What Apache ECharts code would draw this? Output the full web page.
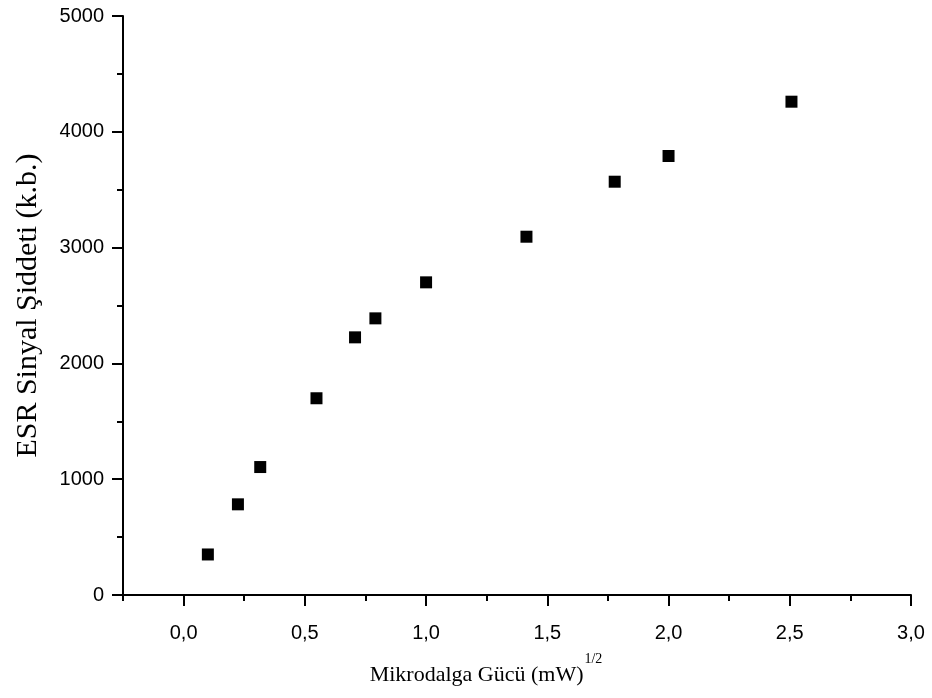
<!DOCTYPE html>
<html>
<head>
<meta charset="utf-8">
<script src="https://cdn.jsdelivr.net/npm/echarts@6/dist/echarts.min.js"></script>
<style>
  html, body { margin: 0; padding: 0; background: #fff; }
  #chart { width: 932px; height: 698px; }
</style>
</head>
<body>
<div id="chart"></div>
<script>
// Square root of microwave power, (mW)^1/2
const powerRoot = [0.100, 0.224, 0.316, 0.548, 0.707, 0.791, 1.000, 1.414, 1.778, 2.000, 2.507];
// ESR signal intensity, arbitrary units
const signal = [350, 783, 1105, 1699, 2225, 2389, 2700, 3094, 3569, 3791, 4260];

const xMajorTicks = [0, 0.5, 1.0, 1.5, 2.0, 2.5, 3.0];
const xMinorTicks = [-0.25, 0.25, 0.75, 1.25, 1.75, 2.25, 2.75];

const X_MIN = -0.25, X_MAX = 3.0;
const Y_MIN = 0, Y_MAX = 5000;

const points = powerRoot.map((x, i) => [x, signal[i]]);

const axisInk = { color: '#000', width: 2 };
const sansFont = '"Liberation Sans", Arial, sans-serif';
const serifFont = '"Liberation Serif", "Times New Roman", serif';

const chart = echarts.init(document.getElementById('chart'), null, { renderer: 'canvas' });

chart.setOption({
  backgroundColor: '#fff',
  animation: false,
  grid: { left: 123, right: 21, top: 16, bottom: 103, containLabel: false },
  xAxis: [
    {
      type: 'value',
      min: X_MIN,
      max: X_MAX,
      splitLine: { show: false },
      axisLine: { show: true, onZero: false, lineStyle: axisInk },
      axisTick: { show: true, inside: false, length: 11, lineStyle: axisInk, customValues: xMajorTicks },
      axisLabel: {
        customValues: xMajorTicks,
        margin: 28,
        color: '#000',
        fontSize: 20,
        fontFamily: sansFont,
        formatter: v => v.toFixed(1).replace('.', ',')
      },
      name: '{t|Mikrodalga Gücü (mW)}{s|1/2}',
      nameLocation: 'middle',
      nameGap: 57,
      nameTextStyle: {
        rich: {
          t: { fontSize: 22, fontFamily: serifFont, color: '#000', lineHeight: 34, verticalAlign: 'bottom' },
          s: { fontSize: 14, fontFamily: serifFont, color: '#000', lineHeight: 34, verticalAlign: 'top', padding: [0, 62, 0, 1] }
        }
      }
    },
    {
      // minor tick marks between the labelled ticks
      type: 'value',
      min: X_MIN,
      max: X_MAX,
      position: 'bottom',
      splitLine: { show: false },
      axisLine: { show: false, onZero: false },
      axisTick: { show: true, inside: false, length: 6, lineStyle: axisInk, customValues: xMinorTicks },
      axisLabel: { show: false }
    }
  ],
  yAxis: {
    type: 'value',
    min: Y_MIN,
    max: Y_MAX,
    interval: 1000,
    splitLine: { show: false },
    axisLine: { show: true, onZero: false, lineStyle: axisInk },
    axisTick: { show: true, inside: false, length: 11, lineStyle: axisInk },
    minorTick: { show: true, splitNumber: 2, length: 6, lineStyle: axisInk },
    minorSplitLine: { show: false },
    axisLabel: {
      margin: 19,
      color: '#000',
      fontSize: 20,
      fontFamily: sansFont,
      formatter: v => String(v)
    },
    name: 'ESR Sinyal Şiddeti (k.b.)',
    nameLocation: 'middle',
    nameRotate: 90,
    nameGap: 80,
    nameTextStyle: { fontSize: 30, fontFamily: serifFont, color: '#000' }
  },
  series: [
    {
      type: 'scatter',
      xAxisIndex: 0,
      data: points,
      symbol: 'rect',
      symbolSize: 12,
      itemStyle: { color: '#000', opacity: 1 },
      silent: true
    }
  ]
});
</script>
</body>
</html>
